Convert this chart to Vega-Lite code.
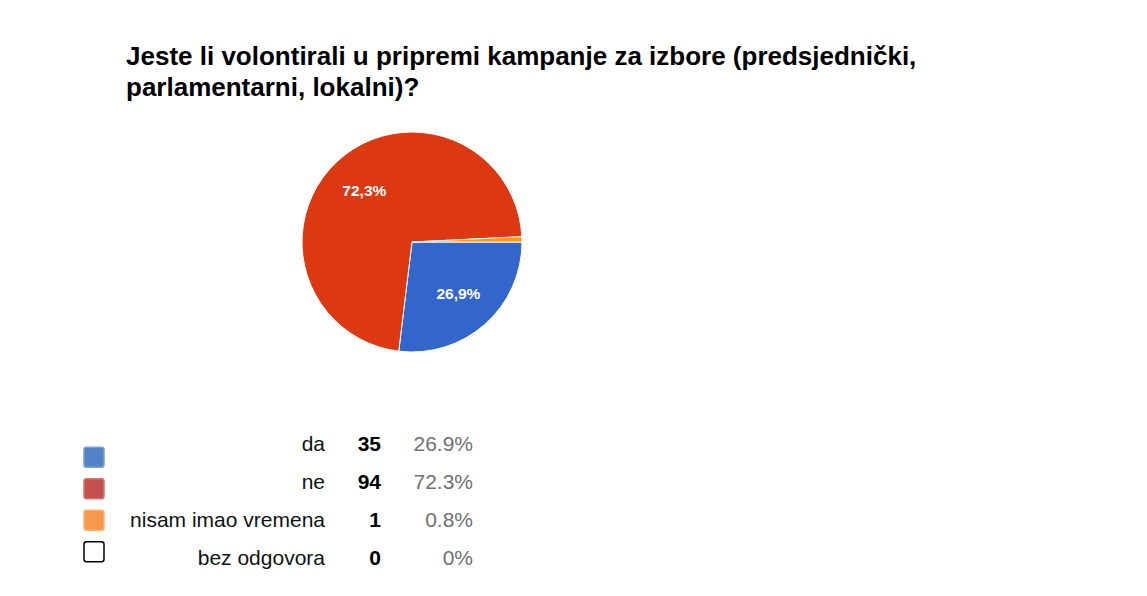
{
  "$schema": "https://vega.github.io/schema/vega-lite/v6.json",
  "background": "white",
  "padding": {"left": 60, "top": 44, "right": 0, "bottom": 0},
  "title": {
    "text": ["Jeste li volontirali u pripremi kampanje za izbore (predsjednički,", "parlamentarni, lokalni)?"],
    "anchor": "start",
    "dx": 66,
    "font": "Liberation Sans",
    "fontSize": 26,
    "fontWeight": "bold",
    "color": "#000000",
    "lineHeight": 31,
    "offset": 14
  },
  "datasets": {
    "answers": [
      {"idx": 1, "answer": "da", "count": 35, "share": "26.9%", "pieLabel": "26,9%"},
      {"idx": 2, "answer": "ne", "count": 94, "share": "72.3%", "pieLabel": "72,3%"},
      {"idx": 3, "answer": "nisam imao vremena", "count": 1, "share": "0.8%", "pieLabel": ""},
      {"idx": 4, "answer": "bez odgovora", "count": 0, "share": "0%", "pieLabel": ""}
    ]
  },
  "bounds": "flush",
  "spacing": 63,
  "vconcat": [
    {
      "width": 704,
      "height": 254,
      "data": {"name": "answers"},
      "transform": [{"filter": "datum.count > 0"}],
      "encoding": {
        "theta": {"field": "count", "type": "quantitative", "stack": true, "scale": {"range": [1.5708, 7.854]}},
        "order": {"field": "idx", "type": "quantitative"},
        "color": {
          "field": "answer", "type": "nominal",
          "scale": {"domain": ["da", "ne", "nisam imao vremena"], "range": ["#3366cc", "#dc3912", "#ff9900"]},
          "legend": null
        }
      },
      "layer": [
        {"mark": {"type": "arc", "outerRadius": 110, "stroke": "#ffffff", "strokeWidth": 1}},
        {
          "mark": {"type": "text", "radius": 70, "font": "Liberation Sans", "fontSize": 15.5, "fontWeight": "bold", "fill": "#ffffff"},
          "encoding": {"text": {"field": "pieLabel"}, "color": {"value": "#ffffff"}}
        }
      ]
    },
    {
      "bounds": "flush",
      "spacing": 0,
      "hconcat": [
        {
          "width": 68,
          "height": 145,
          "data": {"name": "answers"},
          "mark": {
            "type": "point",
            "shape": "M-0.75,-1H0.75Q1,-1 1,-0.75V0.75Q1,1 0.75,1H-0.75Q-1,1 -1,0.75V-0.75Q-1,-1 -0.75,-1Z",
            "size": 400,
            "filled": true,
            "opacity": 1,
            "strokeWidth": 1.5
          },
          "encoding": {
            "y": {"field": "idx", "type": "ordinal", "axis": null, "scale": {"type": "point", "padding": 0.8}},
            "fill": {
              "field": "answer", "type": "nominal", "legend": null,
              "scale": {"domain": ["da", "ne", "nisam imao vremena", "bez odgovora"], "range": ["#5283c6", "#c4504e", "#f9984d", "#ffffff"]}
            },
            "stroke": {
              "field": "answer", "type": "nominal", "legend": null,
              "scale": {"domain": ["da", "ne", "nisam imao vremena", "bez odgovora"], "range": ["#77a0da", "#d77471", "#fdb26f", "#000000"]}
            }
          }
        },
        {
          "width": 197,
          "height": 140,
          "data": {"name": "answers"},
          "mark": {"type": "text", "align": "right", "baseline": "middle", "font": "Liberation Sans", "fontSize": 21, "color": "#111111"},
          "encoding": {
            "y": {"field": "idx", "type": "ordinal", "axis": null, "scale": {"type": "point", "padding": 0.342}},
            "x": {"value": "width"},
            "text": {"field": "answer"}
          }
        },
        {
          "width": 56,
          "height": 140,
          "data": {"name": "answers"},
          "mark": {"type": "text", "align": "right", "baseline": "middle", "font": "Liberation Sans", "fontSize": 21, "fontWeight": "bold", "color": "#000000"},
          "encoding": {
            "y": {"field": "idx", "type": "ordinal", "axis": null, "scale": {"type": "point", "padding": 0.342}},
            "x": {"value": "width"},
            "text": {"field": "count", "type": "quantitative"}
          }
        },
        {
          "width": 92,
          "height": 140,
          "data": {"name": "answers"},
          "mark": {"type": "text", "align": "right", "baseline": "middle", "font": "Liberation Sans", "fontSize": 21, "color": "#707070"},
          "encoding": {
            "y": {"field": "idx", "type": "ordinal", "axis": null, "scale": {"type": "point", "padding": 0.342}},
            "x": {"value": "width"},
            "text": {"field": "share"}
          }
        }
      ]
    }
  ],
  "config": {"view": {"stroke": null}, "font": "Liberation Sans"}
}
